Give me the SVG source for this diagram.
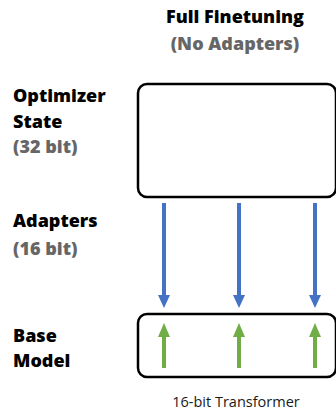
<svg xmlns="http://www.w3.org/2000/svg" width="336" height="412" viewBox="0 0 336 412">
  <defs>
    <style>
      .h { font-family: "Open Sans", "Liberation Sans", sans-serif; font-weight: 800; font-size: 18px; fill: #000; }
      .g { font-family: "Open Sans", "Liberation Sans", sans-serif; font-weight: 800; font-size: 18px; fill: #666; }
      .cap { font-family: "Open Sans", "Liberation Sans", sans-serif; font-size: 14.5px; fill: #1a1a1a; }
      .box { fill: #fff; stroke: #000; stroke-width: 2.5; }
      .blue { stroke: #4472C4; stroke-width: 4; fill: none; }
      .green { stroke: #70AD47; stroke-width: 4; fill: none; }
    </style>
  </defs>
  <rect width="336" height="412" fill="#fff"/>

  <g id="title">
    <text class="h" x="235" y="23" text-anchor="middle">Full Finetuning</text>
    <text class="g" x="235" y="50" text-anchor="middle">(No Adapters)</text>
  </g>

  <g id="labels">
    <text class="h" x="13" y="102">Optimizer</text>
    <text class="h" x="13" y="128">State</text>
    <text class="g" x="13" y="153">(32 bit)</text>
    <text class="h" x="13" y="227">Adapters</text>
    <text class="g" x="13" y="255">(16 bit)</text>
    <text class="h" x="13" y="342">Base</text>
    <text class="h" x="13" y="367">Model</text>
  </g>

  <g id="optimizer-state">
    <rect class="box" x="138" y="84" width="198" height="113" rx="9"/>
  </g>

  <g id="base-model">
    <rect class="box" x="138" y="314" width="198" height="63" rx="9"/>
  </g>

  <g id="connectors">
    <g class="blue">
      <line x1="164" y1="203" x2="164" y2="296"/>
      <line x1="239" y1="203" x2="239" y2="296"/>
      <line x1="315" y1="203" x2="315" y2="296"/>
    </g>
    <g fill="#4472C4">
      <path d="M158,295 L170,295 L164,308 Z"/>
      <path d="M233,295 L245,295 L239,308 Z"/>
      <path d="M309,295 L321,295 L315,308 Z"/>
    </g>
    <g class="green">
      <line x1="164" y1="336" x2="164" y2="368"/>
      <line x1="239" y1="336" x2="239" y2="368"/>
      <line x1="315" y1="336" x2="315" y2="368"/>
    </g>
    <g fill="#70AD47">
      <path d="M158,337 L170,337 L164,323 Z"/>
      <path d="M233,337 L245,337 L239,323 Z"/>
      <path d="M309,337 L321,337 L315,323 Z"/>
    </g>
  </g>

  <text class="cap" x="236" y="407" text-anchor="middle">16-bit Transformer</text>
</svg>
